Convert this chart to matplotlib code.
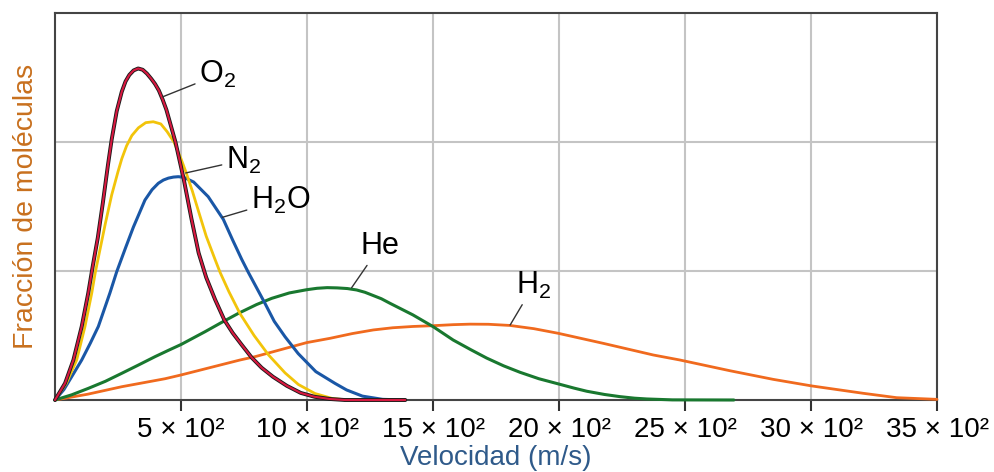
import matplotlib
matplotlib.use("Agg")
from matplotlib import pyplot as plt

plt.rcParams['font.family'] = ['Liberation Sans', 'DejaVu Sans']
plt.rcParams['mathtext.fontset'] = 'custom'
plt.rcParams['mathtext.rm'] = 'Liberation Sans'

# Curvas: velocidad (m/s) y fraccion (unidades de rejilla)
o2_v = [0, 40, 73, 106, 132, 150, 170, 190, 210, 225, 245, 265, 280, 295, 312, 330,
        348, 365, 382, 397, 412, 427, 442, 455, 478, 510, 542, 570, 600, 635, 672,
        705, 740, 780, 820, 865, 920, 975, 1030, 1090, 1150, 1390]
o2_f = [0, 0.13, 0.31, 0.57, 0.83, 1.04, 1.26, 1.53, 1.82, 2.02, 2.24, 2.39, 2.47,
        2.52, 2.555, 2.57, 2.56, 2.53, 2.49, 2.45, 2.40, 2.33, 2.25, 2.16, 2.0, 1.72,
        1.40, 1.14, 0.95, 0.78, 0.62, 0.52, 0.43, 0.33, 0.25, 0.18, 0.11, 0.055,
        0.025, 0.008, 0, 0]

n2_v = [0, 45, 86, 119, 146, 160, 180, 200, 225, 250, 265, 284, 305, 331, 360, 390,
        420, 445, 472, 500, 519, 545, 570, 600, 635, 655, 690, 734, 790, 847, 913,
        966, 1032, 1100, 1160, 1390]
n2_f = [0, 0.13, 0.31, 0.57, 0.83, 0.99, 1.18, 1.37, 1.59, 1.77, 1.87, 1.97, 2.05,
        2.11, 2.15, 2.157, 2.14, 2.08, 2.0, 1.87, 1.77, 1.62, 1.46, 1.27, 1.09,
        0.99, 0.84, 0.67, 0.50, 0.35, 0.21, 0.12, 0.05, 0.012, 0, 0]

h2o_v = [0, 35, 66, 106, 140, 172, 218, 245, 280, 311, 357, 385, 410, 430, 450, 470,
         489, 510, 550, 608, 668, 705, 741, 767, 800, 833, 870, 913, 965, 1035, 1111,
         1157, 1220, 1300, 1390]
h2o_f = [0, 0.08, 0.18, 0.31, 0.44, 0.57, 0.83, 0.995, 1.18, 1.34, 1.55, 1.63, 1.68,
         1.705, 1.72, 1.728, 1.731, 1.727, 1.69, 1.576, 1.40, 1.24, 1.09, 0.99, 0.87,
         0.75, 0.61, 0.49, 0.36, 0.22, 0.129, 0.078, 0.03, 0.005, 0]

he_v = [0, 66, 132, 200, 265, 330, 397, 450, 500, 595, 660, 728, 800, 860, 930, 999,
        1040, 1080, 1120, 1160, 1197, 1230, 1260, 1295, 1329, 1420, 1501, 1580, 1650,
        1713, 1780, 1845, 1920, 1997, 2060, 2110, 2180, 2242, 2300, 2348, 2450, 2694]
he_f = [0, 0.04, 0.09, 0.145, 0.207, 0.27, 0.336, 0.385, 0.43, 0.529, 0.60, 0.672,
        0.74, 0.788, 0.83, 0.855, 0.866, 0.871, 0.869, 0.864, 0.853, 0.835, 0.812,
        0.785, 0.75, 0.66, 0.568, 0.465, 0.39, 0.325, 0.265, 0.215, 0.165, 0.125,
        0.092, 0.068, 0.043, 0.026, 0.014, 0.008, 0.001, 0]

h2_v = [0, 130, 265, 437, 500, 734, 794, 999, 1091, 1180, 1263, 1340, 1420, 1500,
        1580, 1647, 1720, 1805, 1900, 1997, 2176, 2374, 2480, 2678, 2850, 3003, 3207,
        3340, 3500]
h2_f = [0, 0.045, 0.103, 0.165, 0.194, 0.31, 0.336, 0.445, 0.478, 0.515, 0.543, 0.56,
        0.570, 0.576, 0.584, 0.588, 0.587, 0.578, 0.553, 0.517, 0.439, 0.349, 0.31,
        0.227, 0.16, 0.109, 0.052, 0.018, 0.005]

ticks_v = [500, 1000, 1500, 2000, 2500, 3000, 3500]
ticks_txt = ['5 × 10²', '10 × 10²', '15 × 10²', '20 × 10²', '25 × 10²',
             '30 × 10²', '35 × 10²']


def main():
    fig = plt.figure(figsize=(9.95, 4.72), dpi=100)
    ax = fig.add_axes([55/995, 72/472, 882/995, 387/472])

    ax.set_xlim(0, 3500)
    ax.set_ylim(0, 3)
    ax.set_xticks(ticks_v)
    ax.set_xticklabels(ticks_txt, fontsize=20)
    ax.set_yticks([1, 2])
    ax.set_yticklabels([])
    ax.tick_params(axis='y', length=0)
    ax.tick_params(axis='x', direction='out', length=8, width=1.5,
                   color='#333333', pad=4)
    ax.grid(True, color='#c4c4c4', linewidth=1.5)
    ax.set_axisbelow(True)
    for s in ax.spines.values():
        s.set_color('#444444')
        s.set_linewidth(1.5)

    # curvas
    kw = dict(clip_on=False, solid_joinstyle='round', solid_capstyle='round')
    ax.plot(h2_v, h2_f, color='#f06a1e', lw=2.0, zorder=3, **kw)
    ax.plot(he_v, he_f, color='#19782f', lw=2.2, zorder=4, **kw)
    ax.plot(h2o_v, h2o_f, color='#1a57a6', lw=2.2, zorder=5, **kw)
    ax.plot(n2_v, n2_f, color='#f2c40a', lw=2.0, zorder=6, **kw)
    ax.plot(o2_v, o2_f, color='#1a1a1a', lw=2.8, zorder=7, **kw)
    ax.plot(o2_v, o2_f, color='#d81840', lw=1.5, zorder=8, **kw)

    # etiquetas con linea guia
    lp = dict(arrowstyle='-', color='#333333', lw=1.0, shrinkA=1, shrinkB=0)
    ax.annotate(r'$\mathrm{O_2}$', xy=(427, 2.35), xytext=(645, 2.52),
                fontsize=22, ha='center', va='center', arrowprops=lp, zorder=9)
    ax.annotate(r'$\mathrm{N_2}$', xy=(519, 1.76), xytext=(748, 1.86),
                fontsize=22, ha='center', va='center', arrowprops=lp, zorder=9)
    ax.annotate(r'$\mathrm{H_2O}$', xy=(664, 1.416), xytext=(895, 1.55),
                fontsize=22, ha='center', va='center', arrowprops=lp, zorder=9)
    ax.annotate('He', xy=(1177, 0.87), xytext=(1290, 1.19),
                fontsize=22, ha='center', va='center', arrowprops=lp, zorder=9)
    ax.annotate(r'$\mathrm{H_2}$', xy=(1806, 0.581), xytext=(1900, 0.89),
                fontsize=22, ha='center', va='center', arrowprops=lp, zorder=9)

    ax.set_xlabel('Velocidad (m/s)', fontsize=20, color='#2f5a8a', labelpad=2)
    ax.set_ylabel('Fracción de moléculas', fontsize=20.5, color='#c8701e',
                  labelpad=8)

    fig.savefig('out.png', dpi=100)


if __name__ == "__main__":
    main()
